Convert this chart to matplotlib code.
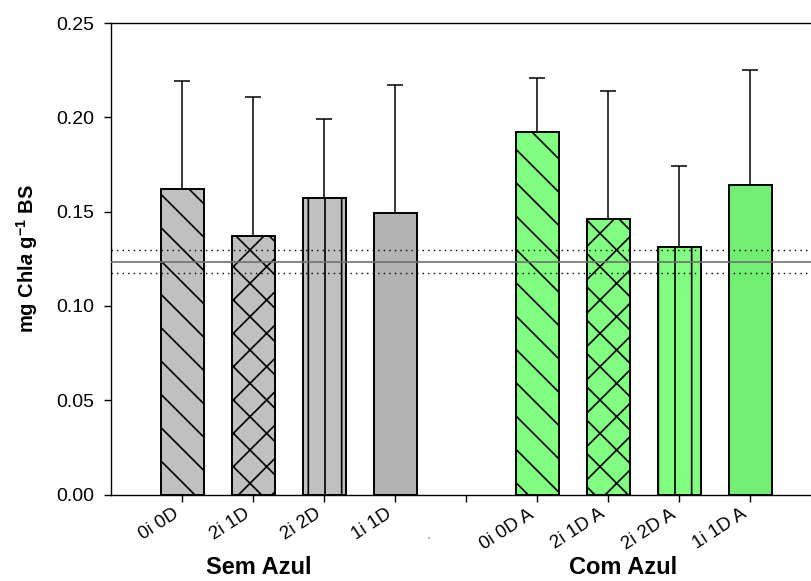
import matplotlib
matplotlib.use("Agg")
import matplotlib.pyplot as plt
import numpy as np

plt.rcParams['font.family'] = ['Liberation Sans', 'DejaVu Sans']
plt.rcParams['mathtext.fontset'] = 'custom'
plt.rcParams['mathtext.rm'] = 'Liberation Sans:bold'
plt.rcParams['mathtext.it'] = 'Liberation Sans:bold:italic'
plt.rcParams['mathtext.bf'] = 'Liberation Sans:bold'
plt.rcParams['hatch.linewidth'] = 1.2

# ---- data ----
sem_labels = ['0i 0D', '2i 1D', '2i 2D', '1i 1D']
com_labels = ['0i 0D A', '2i 1D A', '2i 2D A', '1i 1D A']
sem_values = [0.162, 0.137, 0.157, 0.149]
sem_errors = [0.057, 0.074, 0.042, 0.068]
com_values = [0.192, 0.146, 0.131, 0.164]
com_errors = [0.029, 0.068, 0.043, 0.061]
ref_mean = 0.1233
ref_upper = 0.1296
ref_lower = 0.1173
group_names = ['Sem Azul', 'Com Azul']
yticks = [0.00, 0.05, 0.10, 0.15, 0.20, 0.25]

hatches = ['\\', 'x', '|', '']
gray_faces = ['#c0c0c0', '#c0c0c0', '#c0c0c0', '#b3b3b3']
green_faces = ['#80ff80', '#80ff80', '#80ff80', '#72ee72']

fig = plt.figure(figsize=(8.11, 5.81), dpi=100)
ax = fig.add_axes([111/811, 1-494.5/581, (811-111)/811, (494.5-23)/581])

x_sem = np.arange(len(sem_values))
x_com = np.arange(len(com_values)) + len(sem_values) + 1
width = 0.606

for xs, vals, errs, faces in [(x_sem, sem_values, sem_errors, gray_faces),
                              (x_com, com_values, com_errors, green_faces)]:
    for xi, v, e, fc, h in zip(xs, vals, errs, faces, hatches):
        ax.bar(xi, v, width=width, color=fc, edgecolor='black', linewidth=1.4,
               hatch=h, zorder=2)
        ax.errorbar(xi, v, yerr=[[0], [e]], fmt='none', ecolor='black',
                    elinewidth=1.1, capsize=5.5, capthick=1.1, zorder=1)

ax.axhline(ref_mean, color='#707070', linewidth=1.2, zorder=3)
ax.axhline(ref_upper, color='black', linewidth=1.0, linestyle=(0, (1, 3)), zorder=3)
ax.axhline(ref_lower, color='black', linewidth=1.0, linestyle=(0, (1, 3)), zorder=3)

ax.set_xlim(-1, 8.856)
ax.set_ylim(0, 0.25)
ax.set_yticks(yticks)
ax.set_yticklabels([f'{t:.2f}' for t in yticks], fontsize=14)

ticks = list(x_sem) + [len(sem_values)] + list(x_com)
labels = sem_labels + ['.\u2002\u2002\u2002\u2002'] + com_labels
ax.set_xticks(ticks)
ax.set_xticklabels(labels, rotation=33, ha='right', fontsize=13.5)
ax.get_xticklabels()[len(sem_values)].set_color('#999999')

ax.tick_params(direction='out', length=5, width=1.0)
ax.tick_params(axis='y', pad=7)
ax.tick_params(axis='x', pad=3)
ax.spines['right'].set_visible(False)
for s in ['left', 'top', 'bottom']:
    ax.spines[s].set_linewidth(1.0)

ax.set_ylabel(r'mg Chl$a$ g$^{-1}$ BS', fontsize=14.5, fontweight='bold', labelpad=12)

fig.text(259/811, 1-568/581, group_names[0], ha='center', va='center',
         fontsize=17, fontweight='bold')
fig.text(623/811, 1-568/581, group_names[1], ha='center', va='center',
         fontsize=17, fontweight='bold')

fig.savefig('out.png', dpi=100)
